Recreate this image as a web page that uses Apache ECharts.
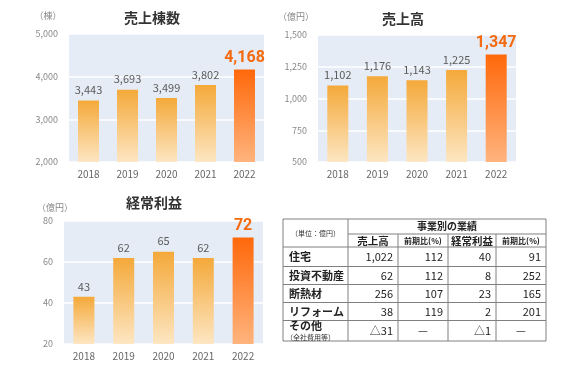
<!DOCTYPE html>
<html><head><meta charset="utf-8">
<script src="https://cdn.jsdelivr.net/npm/echarts@6/dist/echarts.min.js"></script>
<style>html,body{margin:0;padding:0;background:#fff}#c{width:567px;height:367px}</style>
</head><body><div id="c"></div>
<script>
// ---- data ----
const years = ['2018', '2019', '2020', '2021', '2022'];
const unitsSold = [3443, 3693, 3499, 3802, 4168];      // 売上棟数 (棟)
const netSales = [1102, 1176, 1143, 1225, 1347];       // 売上高 (億円)
const ordinaryProfit = [43, 62, 65, 62, 72];           // 経常利益 (億円)

const segNames = ['住宅', '投資不動産', '断熱材', 'リフォーム', 'その他'];
const segSales = ['1,022', '62', '256', '38', '△31'];
const segSalesYoY = ['112', '112', '107', '119', '—'];
const segProfit = ['40', '8', '23', '2', '△1'];
const segProfitYoY = ['91', '252', '165', '201', '—'];

// ---- chart ----
const FONT = '"Noto Sans CJK JP", "Noto Sans", sans-serif';
const chart = echarts.init(document.getElementById('c'), null, {renderer: 'canvas'});
const normGrad = () => new echarts.graphic.LinearGradient(0, 0, 0, 1, [
  {offset: 0, color: '#f4a93a'}, {offset: 1, color: '#fde6c2'}]);
const hiGrad = () => new echarts.graphic.LinearGradient(0, 0, 0, 1, [
  {offset: 0, color: '#ff680a'}, {offset: 1, color: '#ffb47e'}]);

const grids = [
  {left: 69, top: 34, width: 195, height: 128},
  {left: 318, top: 35, width: 198, height: 127},
  {left: 64, top: 221, width: 199, height: 123}
].map(g => Object.assign(g, {show: true, backgroundColor: '#e6ecf5', borderWidth: 0}));

const yCfg = [
  {min: 2000, max: 5000, interval: 1000},
  {min: 500, max: 1500, interval: 250},
  {min: 20, max: 80, interval: 20}
];

function barSeries(vals, idx) {
  return {
    type: 'bar', xAxisIndex: idx, yAxisIndex: idx, barWidth: 21,
    itemStyle: {color: normGrad()},
    label: {show: true, position: 'top', distance: 5, color: '#5a5a5a', fontSize: 11,
      fontFamily: FONT, formatter: p => p.value.toLocaleString('en-US')},
    data: vals.map((v, i) => i === vals.length - 1
      ? {value: v, itemStyle: {color: hiGrad()},
         label: {color: '#f36a10', fontSize: 16, fontWeight: 'bold', distance: 3, fontFamily: 'Roboto, sans-serif'}}
      : v)
  };
}

// table geometry
const cx = [283, 348, 398, 448, 496, 546];
const ry = [219, 234, 247, 266.5, 284.5, 302.5, 320.5, 341];
const lineC = '#808080';
const g = [];
function ln(x1, y1, x2, y2) {
  g.push({type: 'line', shape: {x1, y1, x2, y2}, style: {stroke: lineC, lineWidth: 1}, silent: true});
}
function tx(text, x, y, size, align, color, weight) {
  g.push({type: 'text', x, y, style: {text, fontSize: size, fontFamily: FONT, fill: color || '#222',
    align: align || 'center', verticalAlign: 'middle', fontWeight: weight || 'normal'}, silent: true});
}
// titles / units
tx('売上棟数', 152, 18, 14, 'center', '#333', 'bold');
tx('（棟）', 48, 16, 9, 'center', '#888');
tx('売上高', 403, 19, 14, 'center', '#333', 'bold');
tx('（億円）', 296, 17, 9, 'center', '#888');
tx('経常利益', 154, 203, 14, 'center', '#333', 'bold');
tx('（億円）', 55, 208, 9, 'center', '#888');

// table lines
ln(cx[0], ry[0], cx[5], ry[0]);
ln(cx[1], ry[1], cx[5], ry[1]);
for (let r = 2; r < ry.length; r++) ln(cx[0], ry[r], cx[5], ry[r]);
ln(cx[0], ry[0], cx[0], ry[7]);
ln(cx[1], ry[0], cx[1], ry[7]);
ln(cx[5], ry[0], cx[5], ry[7]);
for (let c = 2; c <= 4; c++) ln(cx[c], ry[1], cx[c], ry[7]);
// table headers
tx('（単位：億円）', (cx[0] + cx[1]) / 2, 233, 7, 'center', '#333');
tx('事業別の業績', (cx[1] + cx[5]) / 2, 226.5, 10, 'center', '#222', 'bold');
tx('売上高', (cx[1] + cx[2]) / 2, 241, 10.5, 'center', '#222', 'bold');
tx('前期比(%)', (cx[2] + cx[3]) / 2, 241, 8, 'center', '#222', 'bold');
tx('経常利益', (cx[3] + cx[4]) / 2, 241, 10.5, 'center', '#222', 'bold');
tx('前期比(%)', (cx[4] + cx[5]) / 2, 241, 8, 'center', '#222', 'bold');
// table body
const cols = [segSales, segSalesYoY, segProfit, segProfitYoY];
segNames.forEach((name, i) => {
  const yc = (ry[i + 2] + ry[i + 3]) / 2;
  if (i === segNames.length - 1) {
    tx(name, cx[0] + 6, yc - 5, 11, 'left', '#222', 'bold');
    tx('（全社費用等）', cx[0] + 3, yc + 6.5, 7, 'left', '#333');
  } else {
    tx(name, cx[0] + 6, yc, 11, 'left', '#222', 'bold');
  }
  cols.forEach((col, c) => {
    const v = col[i];
    if (v === '—') tx(v, (cx[c + 1] + cx[c + 2]) / 2, yc, 11, 'center', '#222');
    else tx(v, cx[c + 2] - 5, yc, 11, 'right', '#222');
  });
});

chart.setOption({
  animation: false,
  textStyle: {fontFamily: FONT},
  grid: grids,
  xAxis: grids.map((_, i) => ({
    type: 'category', gridIndex: i, data: years,
    axisLine: {show: false}, axisTick: {show: false},
    axisLabel: {color: '#666', fontSize: 10, margin: 7, fontFamily: FONT}
  })),
  yAxis: yCfg.map((c, i) => ({
    type: 'value', gridIndex: i, min: c.min, max: c.max, interval: c.interval,
    axisLine: {show: false}, axisTick: {show: false},
    splitLine: {lineStyle: {color: '#ffffff', width: 1.5}},
    axisLabel: {color: '#888', fontSize: 9, margin: 11, fontFamily: FONT,
      formatter: v => v.toLocaleString('en-US')}
  })),
  series: [barSeries(unitsSold, 0), barSeries(netSales, 1), barSeries(ordinaryProfit, 2)],
  graphic: g
});
</script></body></html>
